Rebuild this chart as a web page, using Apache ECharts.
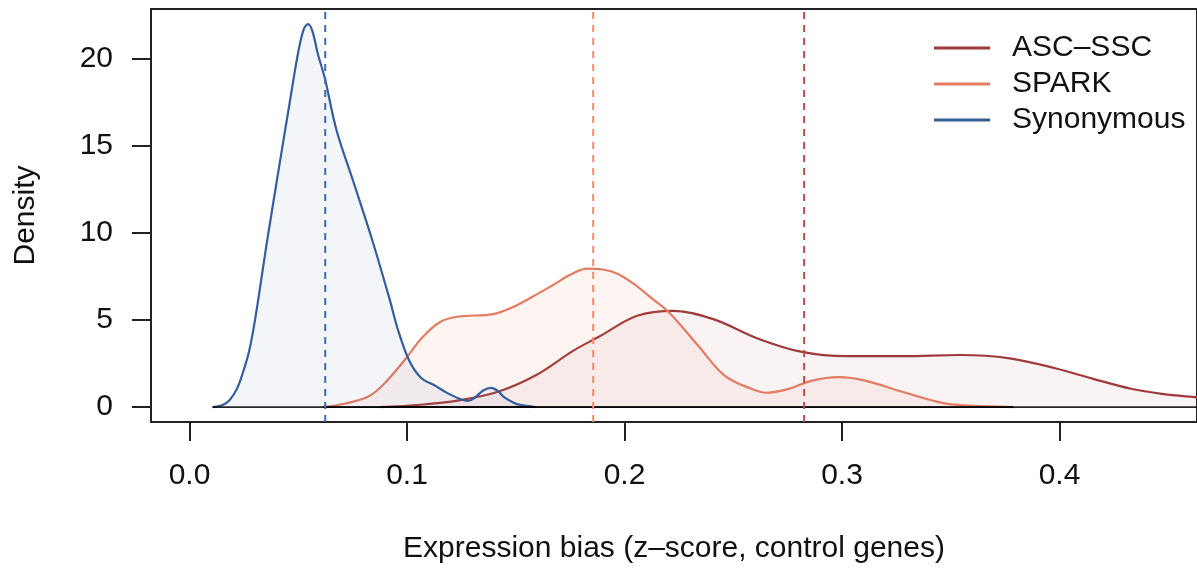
<!DOCTYPE html>
<html>
<head>
<meta charset="utf-8">
<script src="https://cdn.jsdelivr.net/npm/echarts@6/dist/echarts.min.js"></script>
<style>
html,body{margin:0;padding:0;background:#fff;}
#chart{width:1197px;height:569px;}
</style>
</head>
<body>
<div id="chart"></div>
<script>
// ---- data ----
const seriesNames = ['ASC\u2013SSC', 'SPARK', 'Synonymous'];
const xTicks = [0.0, 0.1, 0.2, 0.3, 0.4];
const yTicks = [0, 5, 10, 15, 20];

const synonymous = [[0.0106,0],[0.015,0.1],[0.0185,0.4],[0.022,1.1],[0.0246,2.0],[0.027,3.0],[0.029,4.2],[0.0305,5.3],[0.032,6.5],[0.0355,9.4],[0.0408,13.5],[0.0462,17.6],[0.050,20.4],[0.0525,21.7],[0.0545,22.0],[0.0565,21.6],[0.059,20.3],[0.0622,18.9],[0.0676,15.9],[0.0752,13.0],[0.084,9.6],[0.092,6.2],[0.0957,4.5],[0.101,2.67],[0.1063,1.7],[0.1133,1.2],[0.1186,0.8],[0.1247,0.45],[0.128,0.35],[0.1308,0.5],[0.135,0.95],[0.1388,1.1],[0.142,0.9],[0.1448,0.55],[0.149,0.25],[0.152,0.12],[0.159,0]];

const spark = [[0.0615,0],[0.0712,0.19],[0.0817,0.57],[0.0887,1.24],[0.0993,2.76],[0.1063,3.9],[0.115,4.87],[0.1238,5.2],[0.1396,5.34],[0.150,5.82],[0.160,6.5],[0.1677,7.05],[0.175,7.6],[0.183,7.95],[0.190,7.9],[0.197,7.65],[0.204,7.1],[0.212,6.3],[0.2207,5.4],[0.2338,3.53],[0.246,1.81],[0.2583,1.05],[0.2653,0.82],[0.2757,1.05],[0.2862,1.52],[0.2985,1.72],[0.3107,1.52],[0.3281,0.86],[0.3456,0.25],[0.356,0.09],[0.3788,0]];

const ascSsc = [[0.0878,0],[0.1063,0.13],[0.1238,0.38],[0.1414,0.86],[0.159,1.81],[0.1765,3.24],[0.1884,4.05],[0.2058,5.24],[0.2225,5.53],[0.2408,5.05],[0.2618,3.91],[0.281,3.18],[0.3019,2.92],[0.3281,2.92],[0.3543,2.99],[0.3771,2.80],[0.398,2.23],[0.4155,1.62],[0.4329,1.05],[0.447,0.76],[0.4624,0.57],[0.47,0.45]];

const means = [0.2826, 0.1856, 0.0624]; // ASC-SSC, SPARK, Synonymous
const baseRanges = [[0.0878,0.47],[0.0615,0.3788],[0.0106,0.159]];

// ---- styles ----
const lineColors = ['#9E3A3A', '#E37C62', '#355E9C'];
const dashColors = ['#B04E4E', '#EE8C72', '#3F6AAB'];
const fillColors = ['rgba(160,60,60,0.09)', 'rgba(240,130,105,0.11)', 'rgba(60,100,165,0.09)'];
const curves = [ascSsc, spark, synonymous];
const FONT = 'Liberation Sans, Arial, Helvetica, sans-serif';
const FS = 30;

const series = [];
curves.forEach((d, i) => {
  series.push({
    name: seriesNames[i], type: 'line', data: d, smooth: 0.35, symbol: 'none',
    lineStyle: {color: lineColors[i], width: 2.2},
    itemStyle: {color: lineColors[i]},
    areaStyle: {color: fillColors[i]},
    z: 3 + i
  });
});
baseRanges.forEach((r, i) => {
  series.push({
    name: 'base' + i, type: 'line', data: [[r[0],0],[r[1],0]], symbol: 'none',
    lineStyle: {color: 'rgba(0,0,0,0.85)', width: 1.8}, z: 6, silent: true
  });
});
means.forEach((m, i) => {
  series.push({
    name: 'mean' + i, type: 'line', data: [[m,-0.86],[m,22.87]], symbol: 'none',
    lineStyle: {color: dashColors[i], width: 2, type: [7, 6]}, z: 7, silent: true
  });
});

const chart = echarts.init(document.getElementById('chart'), null, {renderer: 'canvas'});
chart.setOption({
  animation: false,
  backgroundColor: '#fff',
  textStyle: {fontFamily: FONT},
  grid: {left: 151, top: 9, bottom: 146, right: -2, show: true, borderColor: '#222', borderWidth: 2, backgroundColor: 'transparent'},
  legend: {
    data: seriesNames, orient: 'vertical', left: 929, top: 27, itemGap: 4,
    icon: 'rect', itemWidth: 56, itemHeight: 3,
    textStyle: {fontFamily: FONT, fontSize: FS, color: '#111', lineHeight: 32, padding: [0,0,0,17]}
  },
  xAxis: {
    type: 'value', min: -0.0177, max: 0.4632,
    name: 'Expression bias (z\u2013score, control genes)', nameLocation: 'middle', nameGap: 112,
    nameTextStyle: {fontFamily: FONT, fontSize: FS, color: '#111'},
    splitLine: {show: false},
    axisLine: {show: true, onZero: false, lineStyle: {color: '#222', width: 2}},
    axisTick: {show: true, length: 19, customValues: xTicks, lineStyle: {color: '#222', width: 2}},
    axisLabel: {customValues: xTicks, margin: 39, fontFamily: FONT, fontSize: FS, color: '#111', formatter: v => v.toFixed(1)}
  },
  yAxis: {
    type: 'value', min: -0.86, max: 22.87,
    name: 'Density', nameLocation: 'middle', nameGap: 110, nameRotate: 90,
    nameTextStyle: {fontFamily: FONT, fontSize: FS, color: '#111'},
    splitLine: {show: false},
    axisLine: {show: true, onZero: false, lineStyle: {color: '#222', width: 2}},
    axisTick: {show: true, length: 19, customValues: yTicks, lineStyle: {color: '#222', width: 2}},
    axisLabel: {customValues: yTicks, margin: 38, fontFamily: FONT, fontSize: FS, color: '#111', formatter: v => String(v)}
  },
  series: series
});
</script>
</body>
</html>
